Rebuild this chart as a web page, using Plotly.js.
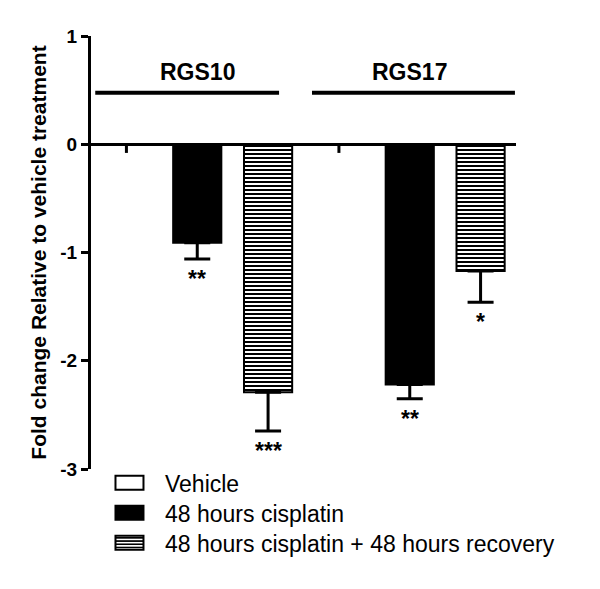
<!DOCTYPE html>
<html>
<head>
<meta charset="utf-8">
<script src="https://cdn.plot.ly/plotly-3.0.1.min.js"></script>
<style>
  html, body { margin: 0; padding: 0; background: #fff; }
  #chart { width: 600px; height: 589px; }
</style>
</head>
<body>
<div id="chart"></div>
<script>
// ---- data ----
const groups = ['RGS10', 'RGS17'];
const seriesNames = ['Vehicle', '48 hours cisplatin', '48 hours cisplatin + 48 hours recovery'];
const vehicle = [0, 0];
const vehicleErr = [0.08, 0.08];
const cisplatin = [-0.91, -2.22];
const cisplatinErr = [0.15, 0.13];
const recovery = [-2.29, -1.17];
const recoveryErr = [0.36, 0.29];
const cisplatinStars = ['**', '**'];
const recoveryStars = ['***', '*'];
const yTickVals = [-3, -2, -1, 0, 1];
const yTickText = ['-3', '-2', '-1', '0', '1'];
const yTitle = 'Fold change Relative to vehicle treatment';

const FONT = 'Liberation Sans, Arial, sans-serif';

function errBars(err, capWidth) {
  return {type: 'data', symmetric: false, array: err.map(() => 0), arrayminus: err,
          color: '#000', thickness: 3, width: capWidth};
}

const traces = [
  {type: 'bar', name: seriesNames[0], x: groups, y: vehicle,
   marker: {color: '#fff', line: {color: '#000', width: 2}},
   error_y: errBars(vehicleErr, 0)},
  {type: 'bar', name: seriesNames[1], x: groups, y: cisplatin,
   marker: {color: '#000', line: {color: '#000', width: 2}},
   error_y: errBars(cisplatinErr, 13)},
  {type: 'bar', name: seriesNames[2], x: groups, y: recovery,
   marker: {color: '#fff', line: {color: '#000', width: 2},
            pattern: {shape: '-', fgcolor: '#000', bgcolor: '#fff', size: 4, solidity: 0.5}},
   error_y: errBars(recoveryErr, 13)}
];

const starFont = {family: FONT, size: 23, weight: 'bold', color: '#000'};
const annotations = [];
groups.forEach((g, i) => {
  // significance stars under the error bars
  annotations.push({x: i, y: cisplatin[i] - cisplatinErr[i], xref: 'x', yref: 'y',
    text: cisplatinStars[i], showarrow: false, yanchor: 'top', yshift: -5, font: starFont});
  annotations.push({x: i + 1/3, y: recovery[i] - recoveryErr[i], xref: 'x', yref: 'y',
    text: recoveryStars[i], showarrow: false, yanchor: 'top', yshift: -5, font: starFont});
  // group labels
  annotations.push({x: i, y: 0.665, xref: 'x', yref: 'y', text: g, showarrow: false,
    font: {family: FONT, size: 23, weight: 'bold', color: '#000'}});
});

const shapes = [
  {type: 'line', xref: 'x', yref: 'y', x0: -0.48, x1: 0.385, y0: 0.475, y1: 0.475,
   line: {color: '#000', width: 4}},
  {type: 'line', xref: 'x', yref: 'y', x0: 0.54, x1: 1.495, y0: 0.475, y1: 0.475,
   line: {color: '#000', width: 4}}
];

const layout = {
  width: 600, height: 589,
  margin: {l: 91, r: 84, t: 36, b: 120},
  paper_bgcolor: '#fff', plot_bgcolor: '#fff',
  barmode: 'group', bargap: 0, bargroupgap: 0.32,
  font: {family: FONT, color: '#000'},
  xaxis: {type: 'category', range: [-0.5, 1.5], visible: false, fixedrange: true},
  yaxis: {
    range: [-3, 1], tickvals: yTickVals, ticktext: yTickText,
    showline: true, linewidth: 3, linecolor: '#000',
    ticks: 'outside', ticklen: 7, tickwidth: 3, tickcolor: '#000',
    tickfont: {family: FONT, size: 19, weight: 'bold', color: '#000'},
    showgrid: false, zeroline: true, zerolinewidth: 3, zerolinecolor: '#000',
    title: {text: yTitle, font: {family: FONT, size: 21, weight: 'bold', color: '#000'}, standoff: 8}
  },
  showlegend: true,
  legend: {x: 0.0435, y: 0.018, xanchor: 'left', yanchor: 'top', orientation: 'v',
           font: {family: FONT, size: 23, color: '#000'}, bgcolor: 'rgba(0,0,0,0)',
           tracegroupgap: 0},
  annotations: annotations,
  shapes: shapes
};

Plotly.newPlot('chart', traces, layout, {staticPlot: true, displayModeBar: false}).then(gd => {
  // no clipping of the legend box (the swatches and text are widened below)
  gd.querySelectorAll('.legend [clip-path]').forEach(e => e.removeAttribute('clip-path'));
  const items = Array.from(gd.querySelectorAll('.legend .traces'));
  let firstY = null;
  items.forEach((tr, k) => {
    // wide rectangular swatches like the reference
    tr.querySelectorAll('.legendpoints path').forEach(p => p.setAttribute('d', 'M-14,-7H14V7H-14Z'));
    const t = tr.querySelector('text.legendtext');
    if (t) t.setAttribute('x', '55.5');
    // row spacing of 30px
    const m = /translate\(\s*([-\d.]+)[ ,]+([-\d.]+)\s*\)/.exec(tr.getAttribute('transform') || '');
    if (m) {
      const x = parseFloat(m[1]), y = parseFloat(m[2]);
      if (firstY === null) firstY = y;
      tr.setAttribute('transform', 'translate(' + x + ',' + (firstY + 30 * k) + ')');
    }
  });
});
</script>
</body>
</html>
